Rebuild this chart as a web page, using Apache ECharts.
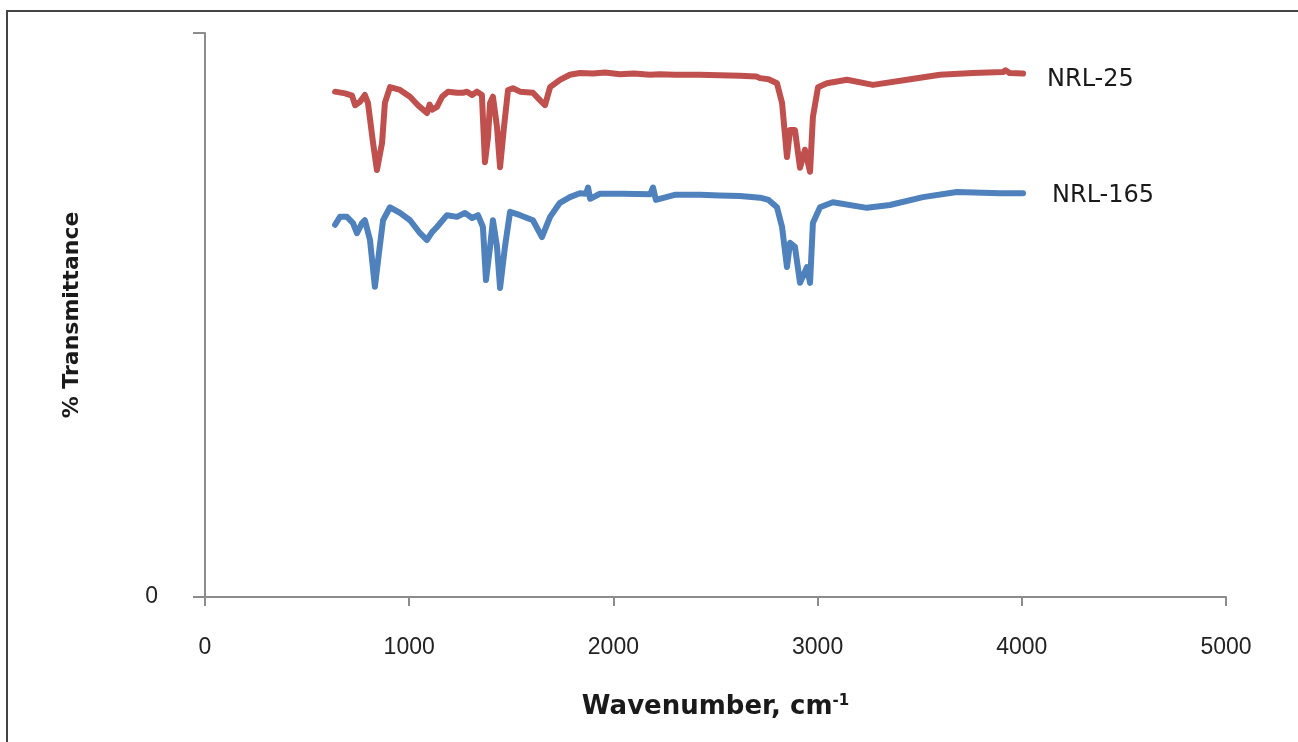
<!DOCTYPE html>
<html><head><meta charset="utf-8">
<script src="https://cdn.jsdelivr.net/npm/echarts@6/dist/echarts.min.js"></script>
<style>html,body{margin:0;padding:0;background:#fff}#c{width:1298px;height:742px}</style>
</head><body><div id="c"></div>
<script>
const xTicks = [0, 1000, 2000, 3000, 4000, 5000];
const nameA = 'NRL-25';
const nameB = 'NRL-165';
const waveA = [637,686,720,735,759,783,798,823,842,867,881,906,955,1004,1043,1087,1100,1112,1136,1161,1190,1234,1263,1283,1308,1332,1356,1371,1386,1396,1410,1430,1445,1464,1484,1508,1543,1606,1640,1665,1690,1738,1787,1836,1900,1960,2032,2100,2180,2228,2300,2424,2520,2620,2700,2718,2760,2801,2826,2850,2865,2889,2914,2938,2963,2977,3002,3046,3144,3271,3438,3599,3761,3908,3920,3940,4006];
const valA  = [89.6,89.3,88.9,87.2,87.8,89.0,87.6,80.5,75.7,80.5,87.6,90.4,89.9,88.7,87.2,85.8,87.3,86.4,86.9,88.7,89.6,89.4,89.4,89.6,89.0,89.6,89.0,77.1,81.6,87.6,88.7,83.3,76.2,83.3,89.9,90.2,89.6,89.4,88.1,87.2,90.4,91.7,92.6,92.9,92.8,93.0,92.7,92.8,92.6,92.7,92.6,92.6,92.5,92.4,92.3,92.0,91.8,91.1,87.6,78.0,82.8,82.8,76.1,79.3,75.4,85.1,90.4,91.1,91.7,90.8,91.7,92.6,92.9,93.1,93.4,92.9,92.8];
const waveB = [637,661,695,725,744,769,783,808,832,852,872,906,955,1004,1053,1087,1112,1136,1185,1234,1273,1308,1337,1361,1376,1396,1410,1430,1445,1469,1494,1543,1606,1650,1690,1738,1787,1836,1866,1876,1886,1934,2050,2180,2194,2208,2300,2424,2520,2620,2718,2760,2801,2826,2850,2865,2889,2914,2948,2963,2977,3012,3075,3242,3354,3516,3682,3893,4006];
const valB  = [66.0,67.4,67.4,66.3,64.5,66.3,66.8,63.3,55.0,61.0,66.8,69.1,68.1,66.8,64.5,63.3,64.7,65.6,67.7,67.4,68.1,67.2,67.7,65.6,56.2,62.1,66.8,62.1,54.8,62.1,68.3,67.7,66.8,63.8,67.4,69.9,70.9,71.6,71.5,72.6,70.6,71.5,71.5,71.4,72.6,70.4,71.3,71.3,71.2,71.1,70.8,70.4,69.1,65.6,58.5,62.8,62.1,55.7,58.5,55.7,66.3,69.1,70.0,69.0,69.5,70.9,71.8,71.6,71.6];

const chart = echarts.init(document.getElementById('c'));
const pairs = (w, v) => w.map((x, i) => [x, v[i]]);
chart.setOption({
  animation: false,
  backgroundColor: '#fff',
  grid: { left: 205, right: 72, top: 33, bottom: 145 },
  xAxis: {
    type: 'value', min: 0, max: 5000, interval: 1000,
    name: 'Wavenumber, cm{sup|-1}', nameLocation: 'middle', nameGap: 97,
    nameTextStyle: { fontFamily: 'DejaVu Sans', fontWeight: 'bold', fontSize: 26, color: '#1a1a1a',
      rich: { sup: { fontFamily: 'DejaVu Sans', fontWeight: 'bold', fontSize: 15, color: '#1a1a1a', verticalAlign: 'top', padding: [0,0,10,0] } } },
    axisLine: { lineStyle: { color: '#8c8c8c', width: 2 } },
    axisTick: { show: true, length: 9, lineStyle: { color: '#8c8c8c', width: 2 } },
    axisLabel: { margin: 39, fontSize: 23, color: '#222', fontFamily: 'Liberation Sans Narrow, Liberation Sans',
      formatter: v => xTicks.includes(v) ? String(v) : '' },
    splitLine: { show: false }
  },
  yAxis: {
    type: 'value', min: 0, max: 100, interval: 100,
    name: '% Transmittance', nameLocation: 'middle', nameGap: 122, nameRotate: 90,
    nameTextStyle: { fontFamily: 'DejaVu Sans', fontWeight: 'bold', fontSize: 22, color: '#1a1a1a' },
    axisLine: { show: true, lineStyle: { color: '#8c8c8c', width: 2 } },
    axisTick: { show: true, length: 12, lineStyle: { color: '#8c8c8c', width: 2 } },
    axisLabel: { margin: 47, fontSize: 23, color: '#222', fontFamily: 'Liberation Sans Narrow, Liberation Sans',
      formatter: v => v === 0 ? '0' : '' },
    splitLine: { show: false }
  },
  series: [
    { name: nameA, type: 'line', data: pairs(waveA, valA), showSymbol: false, smooth: false,
      lineStyle: { color: '#C0504D', width: 6, cap: 'round', join: 'round' },
      endLabel: { show: true, formatter: nameA, distance: 24, offset: [0, 6], fontFamily: 'DejaVu Sans', fontSize: 24, color: '#1a1a1a' } },
    { name: nameB, type: 'line', data: pairs(waveB, valB), showSymbol: false, smooth: false,
      lineStyle: { color: '#4F81BD', width: 6, cap: 'round', join: 'round' },
      endLabel: { show: true, formatter: nameB, distance: 29, offset: [0, 3], fontFamily: 'DejaVu Sans', fontSize: 24, color: '#1a1a1a' } }
  ],
  graphic: [
    { type: 'line', shape: { x1: 6, y1: 11, x2: 1298, y2: 11 }, style: { stroke: '#444', lineWidth: 2 } },
    { type: 'line', shape: { x1: 7, y1: 10, x2: 7, y2: 742 }, style: { stroke: '#444', lineWidth: 2 } }
  ]
});
</script></body></html>
